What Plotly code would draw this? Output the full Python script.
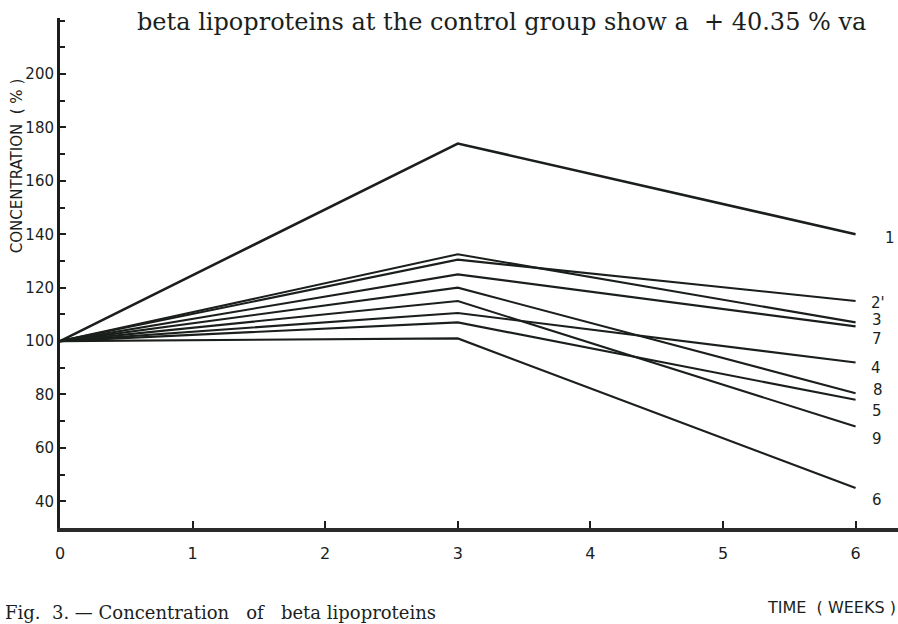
import plotly.graph_objects as go

# ---- data (values in % of initial concentration) ----
weeks = [0, 3, 6]
line_names = ["1", "2'", "3", "7", "4", "8", "5", "9", "6"]
s1 = [100, 174, 140]
s2 = [100, 130.5, 115]
s3 = [100, 132.5, 107]
s7 = [100, 125, 105.5]
s4 = [100, 110.5, 92]
s8 = [100, 120, 80.5]
s5 = [100, 107, 78]
s9 = [100, 115, 68]
s6 = [100, 101, 45]
series = [s1, s2, s3, s7, s4, s8, s5, s9, s6]

y_tick_vals = [40, 60, 80, 100, 120, 140, 160, 180, 200]
x_tick_vals = [0, 1, 2, 3, 4, 5, 6]

# label nudges (pixels) so close labels do not overlap
label_yshift = [-4, -2, 2, -13, -6, 3, -11, -12, -12]
label_xshift = [34, 22, 21, 21, 20, 22, 21, 21, 21]

INK = "#1b1f1c"
LETTER = "DejaVu Sans, Arial, sans-serif"
SERIF = "DejaVu Serif, Liberation Serif, serif"

fig = go.Figure()
for name, vals in zip(line_names, series):
    fig.add_trace(go.Scatter(
        x=weeks, y=vals, mode="lines", name=name,
        line=dict(color=INK, width=2.6 if name == "1" else 2.1),
        showlegend=False, hoverinfo="x+y+name"))

for name, vals, dy, dx in zip(line_names, series, label_yshift, label_xshift):
    fig.add_annotation(x=weeks[-1], y=vals[-1], text=name, showarrow=False,
                       xref="x", yref="y", xshift=dx, yshift=dy,
                       font=dict(family=LETTER, size=15, color=INK))

fig.update_layout(
    width=898, height=624,
    margin=dict(l=60, r=0, t=18, b=96),
    paper_bgcolor="white", plot_bgcolor="white",
    xaxis=dict(range=[0, 6.32], tickvals=x_tick_vals, ticks="inside",
               ticklen=7, tickwidth=1.5, tickcolor=INK,
               showline=True, linewidth=4, linecolor="#2a2a2a",
               showgrid=False, zeroline=False, ticklabelstandoff=8,
               tickfont=dict(family=LETTER, size=16, color=INK)),
    yaxis=dict(range=[30, 221], tickvals=y_tick_vals, ticks="inside",
               ticklen=6, tickwidth=1.5, tickcolor=INK,
               minor=dict(dtick=10, ticks="inside", ticklen=5, tickcolor=INK),
               showline=True, linewidth=3, linecolor=INK,
               showgrid=False, zeroline=False,
               tickfont=dict(family=LETTER, size=15, color=INK)),
)

# axis titles and surrounding page text
fig.add_annotation(text="CONCENTRATION  ( % )", textangle=-90, showarrow=False,
                   xref="paper", yref="paper", x=-0.051, y=0.71, xanchor="center",
                   yanchor="middle",
                   font=dict(family=LETTER, size=15, color=INK))
fig.add_annotation(text="TIME  ( WEEKS )", showarrow=False,
                   xref="paper", yref="paper", x=1.0, y=-0.155, xanchor="right",
                   yanchor="middle", font=dict(family=LETTER, size=16, color=INK))
fig.add_annotation(text="beta lipoproteins at the control group show a  + 40.35 % va",
                   showarrow=False, xref="paper", yref="paper", x=0.09, y=1.0,
                   xanchor="left", yanchor="middle", yshift=-4,
                   font=dict(family=SERIF, size=24, color=INK))
fig.add_annotation(text="Fig.  3. — Concentration   of   beta lipoproteins",
                   showarrow=False, xref="paper", yref="paper", x=-0.068, y=-0.165,
                   xanchor="left", yanchor="middle",
                   font=dict(family=SERIF, size=18, color=INK))

fig.write_html("out.html")
